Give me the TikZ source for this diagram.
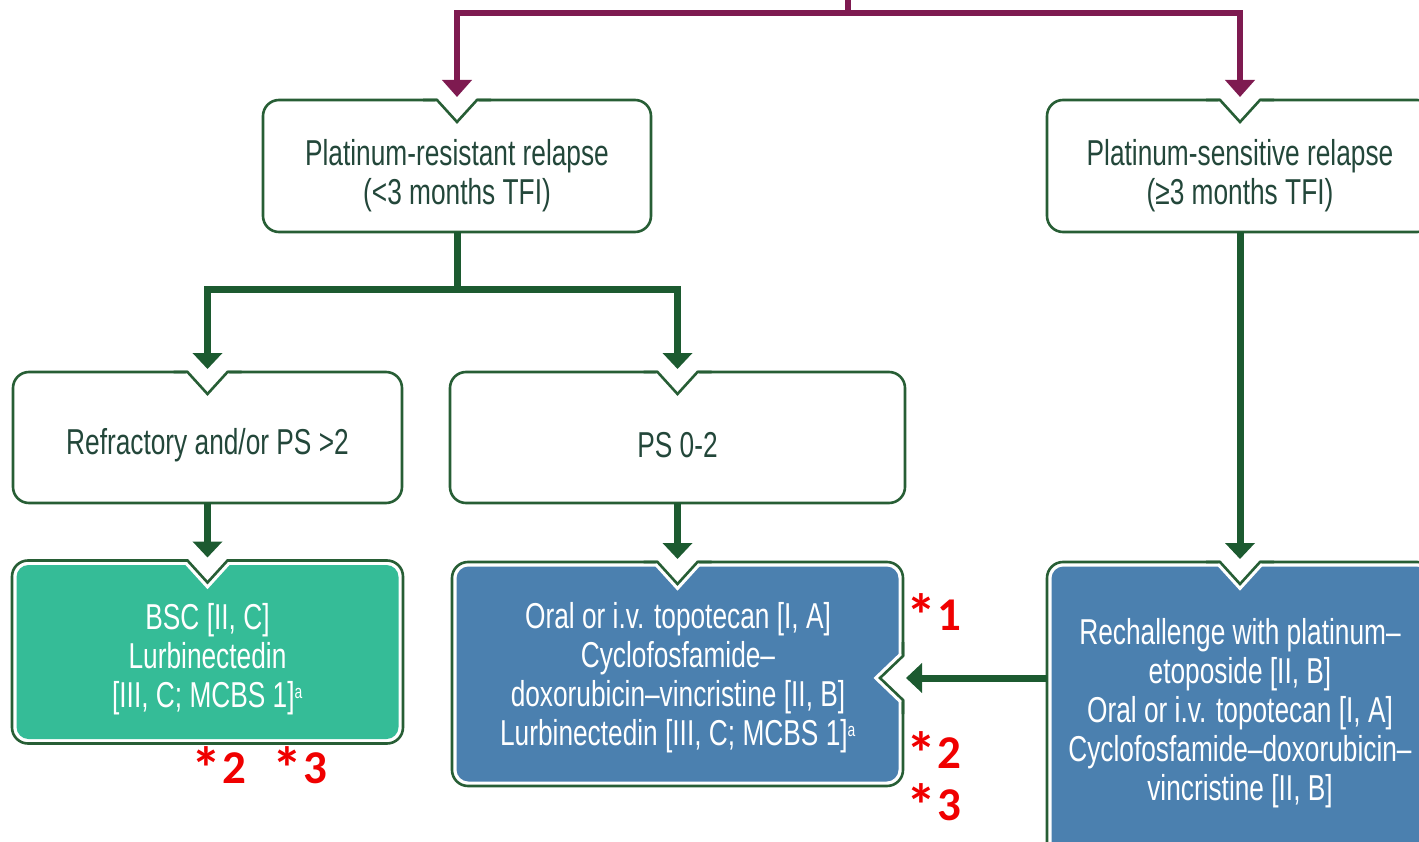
\documentclass[tikz,border=0pt]{standalone}
\usepackage{fontspec}
\setmainfont[FakeStretch=0.73]{Liberation Sans}
\newfontfamily\redfont{Carlito}
\usetikzlibrary{arrows.meta,calc}
\definecolor{purp}{HTML}{7E1A50}
\definecolor{bord}{HTML}{275E35}
\definecolor{garrow}{HTML}{1C5A30}
\definecolor{txt}{HTML}{23473A}
\definecolor{tealfill}{HTML}{35BC97}
\definecolor{bluefill}{HTML}{4B80AF}
\definecolor{redlab}{HTML}{F00000}
% #1 L, #2 tip, #3 R, #4 outward offset, #5 left stub end, #6 right stub end
\newcommand\vnotch[6]{%
  \fill[white] ($#1+#4$) -- ($#3+#4$) -- #3 -- #2 -- #1 -- cycle;
  \draw[white, line width=9pt] #1 -- #2 -- #3;
  \draw[bord, line width=2.6pt, line join=miter] #5 -- #1 -- #2 -- #3 -- #6;
}
\newcommand\redmark[1]{\smash{\raisebox{-6pt}{\fontsize{60}{50}\selectfont *}}\kern0.5pt#1}
\begin{document}
\begin{tikzpicture}[x=1pt,y=-1pt,
  boxtext/.style={align=center, font=\fontsize{36}{39}\selectfont, inner sep=0pt},
  wtext/.style={boxtext, text=txt},
  ftext/.style={boxtext, text=white},
  wbox/.style={draw=bord, line width=2.6pt, fill=white, rounded corners=16pt, inner sep=0pt,
    outer sep=0pt},
  pline/.style={draw=purp, line width=6pt, line join=miter},
  parr/.style={pline, -{Triangle[width=29pt,length=17pt]}, shorten >=3pt},
  gline/.style={draw=garrow, line width=7pt, line join=miter},
  garr/.style={gline, -{Triangle[width=29pt,length=16pt]}, shorten >=3pt},
  redl/.style={text=redlab, font=\redfont\bfseries\fontsize{47}{47}\selectfont, inner sep=0pt, anchor=base}
]
\useasboundingbox (0,0) rectangle (1419,842);
\clip (0,0) rectangle (1419,842);

% white boxes
\node[wbox, minimum width=388pt, minimum height=132pt] (A) at (457,166) {};
\node[wbox, minimum width=386pt, minimum height=132pt] (F) at (1240,166) {};
\node[wbox, minimum width=389pt, minimum height=131pt] (B) at (207.5,437.5) {};
\node[wbox, minimum width=455pt, minimum height=131pt] (C) at (677.5,437.5) {};

% filled boxes
\node[wbox, minimum width=391pt, minimum height=183pt] (D) at (207.5,652) {};
\fill[tealfill, rounded corners=12pt] ($(D.north west)+(4.5,4.5)$) rectangle ($(D.south east)+(-4.5,-4.5)$);
\node[wbox, minimum width=451pt, minimum height=224pt] (E) at (677.5,674) {};
\fill[bluefill, rounded corners=12pt] ($(E.north west)+(4.5,4.5)$) rectangle ($(E.south east)+(-4.5,-4.5)$);
\node[wbox, minimum width=386pt, minimum height=296pt] (G) at (1240,710) {};
\fill[bluefill, rounded corners=12pt] ($(G.north west)+(4.5,4.5)$) rectangle ($(G.south east)+(-4.5,-4.5)$);

% notches
\foreach \n in {A,F,B,C,D,E,G}{
  \vnotch{($(\n.north)+(-20,0)$)}{($(\n.north)+(0,22)$)}{($(\n.north)+(20,0)$)}{(0,-3)}
    {($(\n.north)+(-34,0)$)}{($(\n.north)+(34,0)$)}
}
\coordinate (en) at (E.east |- 0,678);
\vnotch{($(en)+(0,-22)$)}{($(en)+(-23,0)$)}{($(en)+(0,22)$)}{(3,0)}
  {($(en)+(0,-36)$)}{($(en)+(0,36)$)}

% texts
\node[wtext] (At) at (457,175.5) {Platinum-resistant relapse\\(<3 months TFI)};
\node[wtext] (Ft) at (1240,175.5) {Platinum-sensitive relapse\\(≥3 months TFI)};
\node[wtext] (Bt) at (207.5,445) {Refractory and/or PS >2};
\node[wtext] (Ct) at (677.5,445) {PS 0-2};
\node[ftext] (Dt) at (207.5,659) {BSC [II, C]\\Lurbinectedin\\{[}III, C; MCBS 1]\textsuperscript{\fontsize{19}{19}\selectfont a}};
\node[ftext] (Et) at (678,678) {Oral or i.v. topotecan [I, A]\\Cyclofosfamide–\\doxorubicin–vincristine [II, B]\\Lurbinectedin [III, C; MCBS 1]\textsuperscript{\fontsize{19}{19}\selectfont a}};
\node[ftext] (Gt) at (1240,713) {Rechallenge with platinum–\\etoposide [II, B]\\Oral or i.v. topotecan [I, A]\\Cyclofosfamide–doxorubicin–\\vincristine [II, B]};

% purple connectors
\coordinate (top) at (848,-5);
\coordinate (hub) at (848,13);
\draw[pline] (top) -- (hub);
\draw[parr] (hub) -| (A.north);
\draw[parr] (hub) -| (F.north);

% green connectors
\coordinate (split) at (456,290);
\draw[gline] (A.south) -- (A.south |- split);
\draw[garr] (A.south |- split) -| (B.north);
\draw[garr] (A.south |- split) -| (C.north);
\draw[garr] (B.south) -- (D.north);
\draw[garr] (C.south) -- (E.north);
\draw[garr] (F.south) -- (G.north);
\draw[garr] (G.west |- en) -- (en);

% red annotations
\node[redl] (r1) at (934,630) {\redmark{1}};
\node[redl] (r2) at (934,768) {\redmark{2}};
\node[redl] (r3) at (934,820) {\redmark{3}};
\node[redl] (r4) at (219,783) {\redmark{2}};
\node[redl] (r5) at (300,783) {\redmark{3}};
\end{tikzpicture}
\end{document}
